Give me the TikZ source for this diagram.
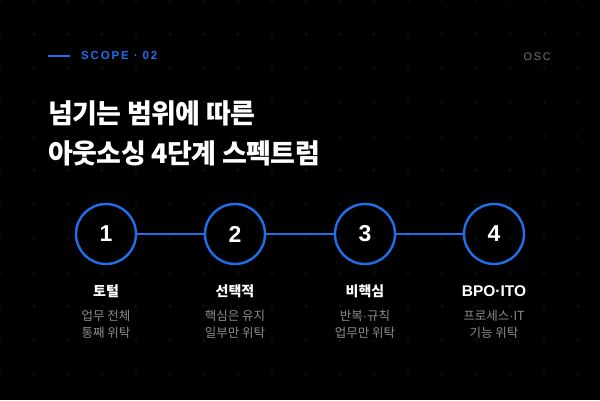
\documentclass[tikz,border=0pt]{standalone}
\usepackage{fontspec}
\setmainfont{Noto Sans CJK KR}
\newfontfamily\latinfont{Liberation Sans}
\newcommand\mdot{{\latinfont ·}}
\usetikzlibrary{positioning}
\definecolor{bgblack}{HTML}{000000}
\definecolor{dotgray}{HTML}{202020}
\definecolor{accent}{HTML}{1F6FEB}
\definecolor{subgray}{HTML}{8C8C8C}
\definecolor{oscgray}{HTML}{707070}
\tikzset{
  stage/.style={circle, draw=accent, line width=2.4pt, minimum size=60pt,
    inner sep=0pt, text=white, font=\latinfont\bfseries\fontsize{23}{25}\selectfont},
  stagename/.style={text=white, inner sep=0pt,
    font=\bfseries\fontsize{14}{16}\selectfont},
  stagedesc/.style={text=subgray, inner sep=0pt, align=center,
    font=\fontsize{12.5}{17}\selectfont},
  headline/.style={text=white, inner sep=0pt, anchor=base west,
    font=\bfseries\fontsize{27}{30}\selectfont\addfontfeature{LetterSpace=-2}},
  kicker/.style={text=accent, inner sep=0pt, anchor=base west,
    font=\latinfont\bfseries\fontsize{11.5}{13}\selectfont\addfontfeature{LetterSpace=16}},
  link/.style={accent, line width=1.6pt},
}
\begin{document}
\begin{tikzpicture}[x=1pt,y=-1pt]
\fill[bgblack] (0,0) rectangle (600,400);
\useasboundingbox (0,0) rectangle (600,400);
% the dot grid
\foreach \i in {0,...,17}
  \foreach \j in {0,...,11}
    \fill[dotgray] (\i*34,\j*34) circle (1);
% the header
\coordinate (rule a) at (48,56);
\coordinate (rule b) at (70,56);
\draw[accent, line width=2pt] (rule a) -- (rule b);
\node[kicker] (kick) at (81,59.5) {SCOPE · 02};
\node[text=oscgray, inner sep=0pt, anchor=base east,
  font=\latinfont\fontsize{11}{13}\selectfont\addfontfeature{LetterSpace=15}] (osc) at (551,60) {OSC};
\node[headline] (head1) at (48,123) {넘기는 범위에 따른};
\node[headline] (head2) at (48,163) {아웃소싱 4단계 스펙트럼};
% the stages
\foreach \i/\x/\name/\da/\db in {1/106/토털/업무 전체/통째 위탁,
  2/235/선택적/핵심은 유지/일부만 위탁,
  3/365/비핵심/반복\mdot 규칙/업무만 위탁,
  4/494/{\latinfont\fontsize{15.5}{17}\selectfont BPO·ITO}/프로세스\mdot IT/기능 위탁}
{
  \node[stage] (c\i) at (\x,234) {\i};
  \node[stagename] (n\i) at (\x,291) {\name};
  \node[stagedesc] (d\i) at (\x,324.5) {\da\\\db};
}
% the links
\foreach \a/\b in {1/2,2/3,3/4}
  \draw[link] (c\a) -- (c\b);
\end{tikzpicture}
\end{document}
